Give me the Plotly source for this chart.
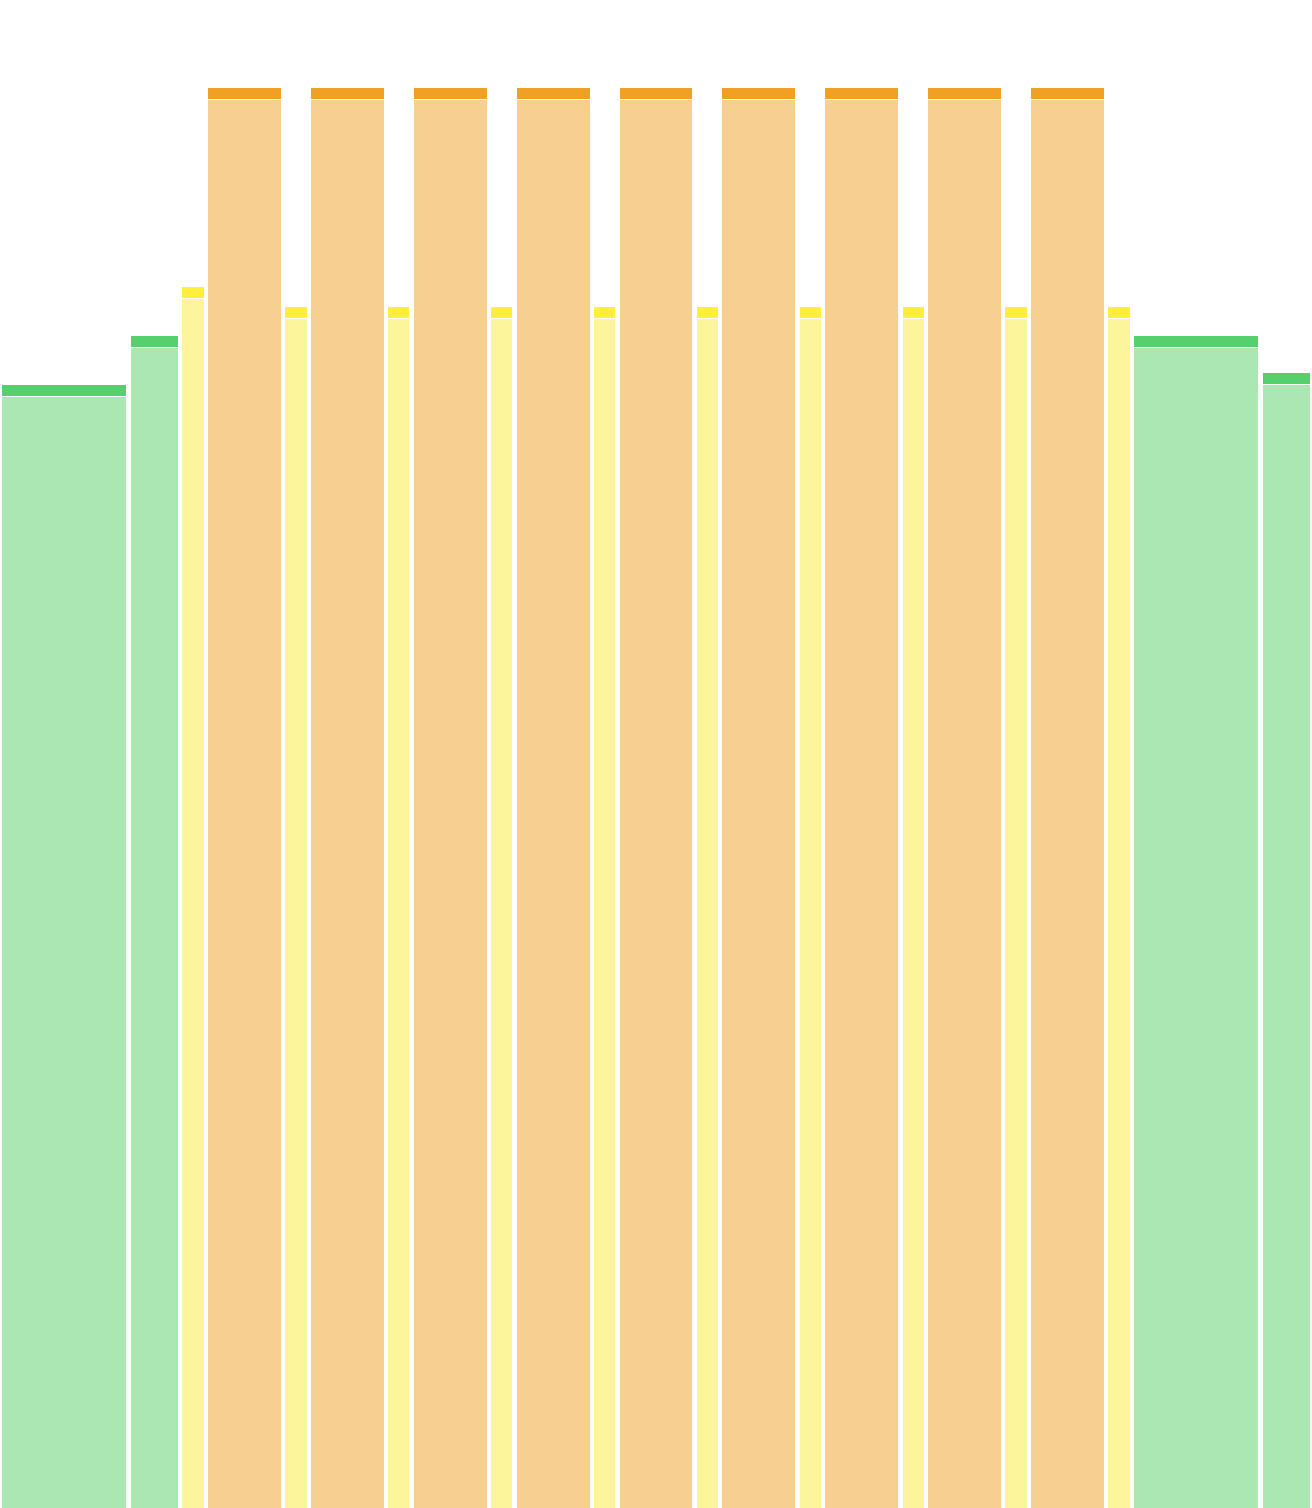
import numpy as np
import plotly.graph_objects as go

# Data: one entry per column, left to right
groups = ["green", "green", "yellow",
          "orange", "yellow", "orange", "yellow", "orange", "yellow",
          "orange", "yellow", "orange", "yellow", "orange", "yellow",
          "orange", "yellow", "orange", "yellow", "orange", "yellow",
          "green", "green"]
widths = [5, 2, 1,
          3, 1, 3, 1, 3, 1,
          3, 1, 3, 1, 3, 1,
          3, 1, 3, 1, 3, 1,
          5, 2]
totals = [1124, 1173, 1222,
          1421, 1202, 1421, 1202, 1421, 1202,
          1421, 1202, 1421, 1202, 1421, 1202,
          1421, 1202, 1421, 1202, 1421, 1202,
          1173, 1136]
cap = 12

body_colors = {"green": "#abe7b3", "yellow": "#fdf59c", "orange": "#f6cf91"}
cap_colors = {"green": "#56d06c", "yellow": "#ffee3b", "orange": "#f0a023"}

# column positions from the widths
edges = np.concatenate([[0], np.cumsum(widths)])
centers = (edges[:-1] + edges[1:]) / 2
bar_w = [w - 0.13 for w in widths]
bodies = [t - cap for t in totals]
caps = [cap] * len(totals)

fig = go.Figure()

fig.add_trace(go.Bar(
    x=centers,
    y=bodies,
    width=bar_w,
    marker_color=[body_colors[g] for g in groups],
    marker_line_color="white",
    marker_line_width=1,
    showlegend=False,
    hoverinfo="skip",
))

fig.add_trace(go.Bar(
    x=centers,
    y=caps,
    width=bar_w,
    marker_color=[cap_colors[g] for g in groups],
    marker_line_color="white",
    marker_line_width=1,
    showlegend=False,
    hoverinfo="skip",
))

fig.update_layout(
    barmode="stack",
    width=1312,
    height=1508,
    margin=dict(l=0, r=0, t=0, b=0),
    paper_bgcolor="white",
    plot_bgcolor="white",
    xaxis=dict(range=[0, int(edges[-1])], visible=False, fixedrange=True),
    yaxis=dict(range=[0, 1508], visible=False, fixedrange=True),
)

# drop the page's default body margin so the chart fills the window
fig.write_html("out.html",
               config={"displayModeBar": False},
               post_script="document.body.style.margin='0';document.body.style.overflow='hidden';")
